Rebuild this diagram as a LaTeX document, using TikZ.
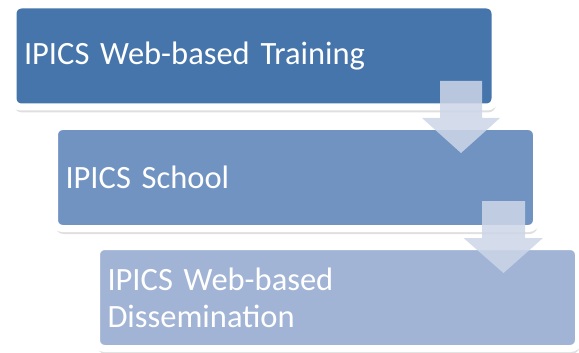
\documentclass[tikz,border=0pt]{standalone}
\usepackage{fontspec}
\setmainfont{Carlito}
\usetikzlibrary{shadows}

\definecolor{stepA}{RGB}{70,117,171}
\definecolor{stepB}{RGB}{113,147,194}
\definecolor{stepC}{RGB}{162,180,213}
\definecolor{flow}{RGB}{205,214,232}

\tikzset{
  stage/.style={rectangle, rounded corners=8pt, draw=white, line width=7pt,
    minimum width=482pt, minimum height=102pt, inner xsep=11pt,
    text width=460pt, align=left, text=white,
    font=\fontsize{32.5}{37}\selectfont,
    drop shadow={shadow xshift=1pt, shadow yshift=-5.5pt, opacity=.25}},
  flowarrow/.style={fill=flow, fill opacity=.85, draw=none}
}

\begin{document}
\begin{tikzpicture}[x=1pt,y=-1pt]
			\useasboundingbox (0,0) rectangle (579,353);
			% the three stages, each one step to the right
			\node[stage, fill=stepA] (training) at (254,56) {IPICS Web-based Training};
			\node[stage, fill=stepB] (school) at (295.5,177.5) {IPICS School};
			\node[stage, fill=stepC] (dissemination) at (337.5,297.5) {IPICS Web-based\\Dissemination};
			% block arrows from one stage down to the next
			\coordinate (t1) at (461,81);
			\coordinate (t2) at (503.5,201);
			\fill[flowarrow] (t1) ++(-21,0) -- ++(0,37) -- ++(-18,0) -- (461,153) -- (500,118) -- ++(-18,0) -- ++(0,-37) -- cycle;
			\fill[flowarrow] (t2) ++(-21.5,0) -- ++(0,37) -- ++(-18.5,0) -- (503.5,273) -- (543,238) -- ++(-18,0) -- ++(0,-37) -- cycle;
		\end{tikzpicture}
\end{document}
